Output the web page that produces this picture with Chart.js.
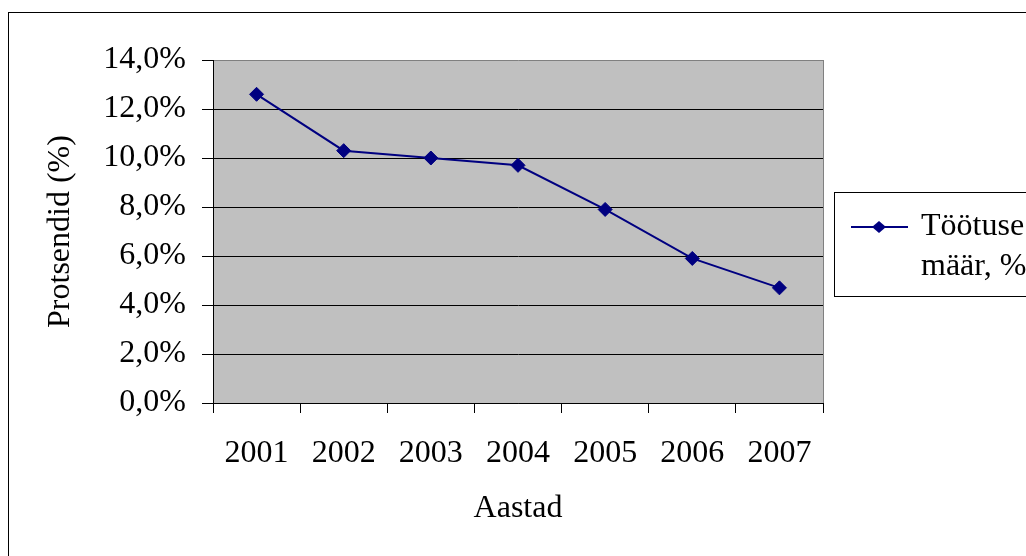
<!DOCTYPE html>
<html>
<head>
<meta charset="utf-8">
<script src="https://cdn.jsdelivr.net/npm/chart.js@4.4.1/dist/chart.umd.min.js"></script>
<style>
  html, body { margin: 0; padding: 0; background: #fff; overflow: hidden; }
  #wrap { position: relative; width: 1026px; height: 556px; }
  #frame { position: absolute; left: 8px; top: 12px; width: 1100px; height: 600px; border: 1px solid #000; }
  #chart { position: absolute; left: 0; top: 0; }
</style>
</head>
<body>
<div id="wrap">
  <div id="frame"></div>
  <canvas id="chart" width="1026" height="556"></canvas>
</div>
<script>
// Töötuse määr aastate kaupa
const years = ['2001', '2002', '2003', '2004', '2005', '2006', '2007'];
const unemployment = [12.6, 10.3, 10.0, 9.7, 7.9, 5.9, 4.7];
const yTicks = [0, 2, 4, 6, 8, 10, 12, 14];
const seriesLabel = 'Töötuse määr, %';

const serif = 'Liberation Serif, Times New Roman, serif';
const navy = '#000080';

// hall joonise ala + parem ääris
const plotBackground = {
    id: 'plotBackground',
    beforeDraw(chart) {
        const { ctx, chartArea: a } = chart;
        ctx.save();
        ctx.fillStyle = '#c0c0c0';
        ctx.fillRect(a.left, a.top, a.right - a.left, a.bottom - a.top);
        ctx.strokeStyle = '#808080';
        ctx.lineWidth = 1;
        ctx.beginPath();
        ctx.moveTo(a.right + 0.5, a.top);
        ctx.lineTo(a.right + 0.5, a.bottom);
        ctx.stroke();
        ctx.restore();
    },
};

// legend kastis paremal (lõigatud servast)
const boxLegend = {
    id: 'boxLegend',
    afterDraw(chart) {
        const { ctx } = chart;
        const ds = chart.data.datasets[0];
        const lines = ds.label.replace(' ', '\n').split('\n');
        ctx.save();
        ctx.strokeStyle = '#000';
        ctx.lineWidth = 1;
        ctx.strokeRect(834.5, 192.5, 300, 104);
        ctx.strokeStyle = ds.borderColor;
        ctx.lineWidth = 2;
        ctx.beginPath();
        ctx.moveTo(851, 227);
        ctx.lineTo(908, 227);
        ctx.stroke();
        ctx.fillStyle = ds.pointBackgroundColor;
        ctx.beginPath();
        ctx.moveTo(879, 221);
        ctx.lineTo(886, 227);
        ctx.lineTo(879, 233);
        ctx.lineTo(872, 227);
        ctx.closePath();
        ctx.fill();
        ctx.fillStyle = '#000';
        ctx.font = '32px ' + serif;
        ctx.textBaseline = 'alphabetic';
        lines.forEach((t, i) => ctx.fillText(t, 921, 235 + i * 40));
        ctx.restore();
    },
};

new Chart(document.getElementById('chart'), {
    type: 'line',
    data: {
        labels: years,
        datasets: [{
            label: seriesLabel,
            data: unemployment,
            borderColor: navy,
            backgroundColor: navy,
            pointBackgroundColor: navy,
            pointBorderColor: navy,
            borderWidth: 2,
            pointStyle: 'rectRot',
            pointRadius: 7,
            pointBorderWidth: 1,
            tension: 0,
        }],
    },
    options: {
        responsive: false,
        animation: false,
        layout: { padding: { top: 60, right: 203, left: 0, bottom: 0 } },
        plugins: { legend: { display: false }, tooltip: { enabled: false } },
        scales: {
            x: {
                offset: true,
                grid: { offset: true, drawOnChartArea: false, color: '#000', tickLength: 10, tickWidth: 1 },
                border: { color: '#000', width: 1 },
                ticks: { color: '#000', font: { family: serif, size: 32 }, padding: 21, maxRotation: 0 },
                title: {
                    display: true, text: 'Aastad', color: '#000',
                    font: { family: serif, size: 32 }, padding: { top: 0, bottom: 28 },
                },
                afterFit(scale) { scale.height = 153; },
            },
            y: {
                min: 0,
                max: 14,
                afterBuildTicks(scale) { scale.ticks = yTicks.map(v => ({ value: v })); },
                grid: {
                    color: ctx => (ctx.tick && ctx.tick.value === 14 ? '#808080' : '#000'),
                    tickColor: '#000',
                    tickLength: 11,
                    lineWidth: 1,
                },
                border: { color: '#000', width: 1 },
                ticks: {
                    color: '#000',
                    font: { family: serif, size: 32 },
                    padding: 16,
                    callback: v => v.toFixed(1).replace('.', ',') + '%',
                },
                title: {
                    display: true, text: 'Protsendid (%)', color: '#000',
                    font: { family: serif, size: 32 }, padding: { top: 41, bottom: 0 },
                },
                afterFit(scale) { scale.width = 213; },
            },
        },
    },
    plugins: [plotBackground, boxLegend],
});
</script>
</body>
</html>
